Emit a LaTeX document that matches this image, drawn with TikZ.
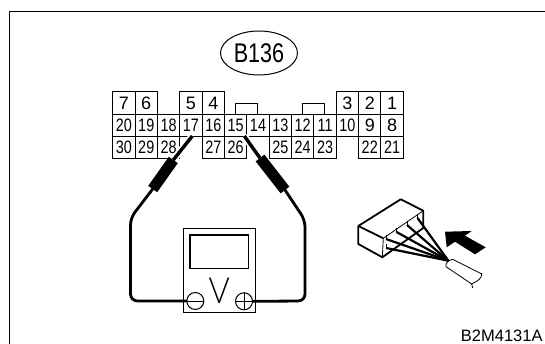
\documentclass[tikz,border=0pt]{standalone}
\usepackage{fontspec}
\setmainfont{Liberation Sans}
\newfontfamily\narrowfont[FakeStretch=0.8]{Liberation Sans}
\newfontfamily\thinfont[FakeStretch=0.9]{Lato Light}
\usetikzlibrary{shapes.geometric}
\newcommand{\cellnum}[1]{\ifnum#1<10 #1\else{\narrowfont #1}\fi}
\tikzset{
  cell/.style={draw,line width=1pt,minimum width=22.35pt,minimum height=22.3pt,inner sep=0pt,font=\fontsize{18}{18}\selectfont},
  wire/.style={line width=2.8pt,line cap=round},
  grip/.style={line width=11pt},
  halo/.style={white,line width=7pt},
  tip/.style={line width=3.4pt},
  pole/.style={circle,draw,line width=1pt,minimum size=17pt,inner sep=0pt},
  lead/.style={line width=2.2pt},
  housing/.style={line width=1.8pt,line join=round},
  thin edge/.style={line width=.8pt}
}
\begin{document}
\begin{tikzpicture}[x=1pt,y=-1pt]
\useasboundingbox (0,0) rectangle (545,344);

% frame
\coordinate (framea) at (9.5,344);
\coordinate (frameb) at (9.5,11.5);
\coordinate (framec) at (545,11.5);
\draw[line width=1.5pt] (framea) -- (frameb) -- (framec);

% connector name
\node[ellipse,draw,line width=1pt,minimum width=77pt,minimum height=44pt,inner sep=0pt,font=\narrowfont\fontsize{27}{27}\selectfont] (title) at (259,53) {B136};

% tabs
\draw[line width=1pt] (235,114) -- (235,103.3) -- (257.3,103.3) -- (257.3,114);
\draw[line width=1pt] (302.3,114) -- (302.3,103.3) -- (324.3,103.3) -- (324.3,114);

% terminals
\foreach \i/\t in {0/7,1/6,3/5,4/4,10/3,11/2,12/1}
  \node[cell] (c\t) at (123.9+22.35*\i,103) {\cellnum{\t}};
\foreach \i/\t in {0/20,1/19,2/18,3/17,4/16,5/15,6/14,7/13,8/12,9/11,10/10,11/9,12/8}
  \node[cell] (c\t) at (123.9+22.35*\i,125.2) {\cellnum{\t}};
\foreach \i/\t in {0/30,1/29,2/28,4/27,5/26,7/25,8/24,9/23,11/22,12/21}
  \node[cell] (c\t) at (123.9+22.35*\i,147.4) {\cellnum{\t}};

% meter
\node[draw,line width=1.2pt,minimum width=72.4pt,minimum height=84pt,inner sep=0pt] (meter) at (219.5,270.3) {};
\node[draw,line width=1.5pt,minimum width=58.7pt,minimum height=33.7pt,inner sep=0pt] (screen) at (219.3,251.8) {};
\node[inner sep=0pt,font=\thinfont\fontsize{36}{36}\selectfont] (volt) at (219.3,290.5) {V};
\node[pole] (minus) at (195.3,301) {};
\node[pole] (plus) at (244,301.3) {};
\draw[line width=1pt] (minus.west) -- (minus.east);
\draw[line width=1pt] (plus.west) -- (plus.east);
\draw[line width=1pt] (plus.north) -- (plus.south);

% probes
\coordinate (ltip) at (192.3,136);
\coordinate (lgripa) at (173.3,160);
\coordinate (lgripb) at (152.7,189);
\coordinate (rtip) at (244.3,136);
\coordinate (rgripa) at (260,158);
\coordinate (rgripb) at (285,190);
\draw[halo] (ltip) -- (lgripa);
\draw[halo] (rtip) -- (rgripa);
\draw[tip] (ltip) -- (lgripa);
\draw[tip] (rtip) -- (rgripa);
\draw[grip] (lgripa) -- (lgripb);
\draw[grip] (rgripa) -- (rgripb);
\draw[wire,rounded corners=7pt] (lgripb) -- (130.5,218) -- (130.5,301) -- (minus.west);
\draw[wire,rounded corners=7pt] (rgripb) -- (305,220) -- (305,301) -- (plus.east);

% plug
\coordinate (pa) at (358.3,226);
\coordinate (pb) at (400.7,199.3);
\coordinate (pc) at (423.3,210.7);
\coordinate (pd) at (383.3,238.3);
\coordinate (pe) at (358.3,244);
\coordinate (pf) at (382.3,257.3);
\coordinate (pg) at (423.3,228);
\coordinate (hub) at (448.3,260.7);
\draw[housing] (pa) -- (pb) -- (pc) -- (pg) -- (pf) -- (pe) -- cycle;
\draw[thin edge] (pc) -- (pd) -- (pf);
\draw[housing] (pa) -- (pd);
% leads
\foreach \x/\y in {417.5/218,407/225,396.5/232,386/239,386/248}{
  \draw[thin edge] (\x,\y-4) -- (\x,\y);
  \draw[lead] (\x,\y) -- (hub);
}

% cable
\coordinate (ca) at (452.7,259.3);
\coordinate (cb) at (481.7,274);
\coordinate (cc) at (471.7,284);
\coordinate (cd) at (446,266.7);
\draw[thin edge] (cd) .. controls (445,263) and (449,260) .. (ca) -- (cb)
  .. controls (482,278) and (478,281) .. (cc) -- (cd);
\draw[thin edge] (cb) -- (481.7,273);
\draw[thin edge] (cc) -- (472.7,288);

% arrow
\fill (445,231.7) -- (471.7,231) -- (465,235.7) -- (485.7,247.3) -- (475,254.3) -- (455,241.7) -- (446.7,247.3) -- cycle;

% drawing number
\node[anchor=west,inner sep=0pt,font=\fontsize{16.5}{17}\selectfont] (number) at (460.7,335.5) {B2M4131A};
\end{tikzpicture}
\end{document}
